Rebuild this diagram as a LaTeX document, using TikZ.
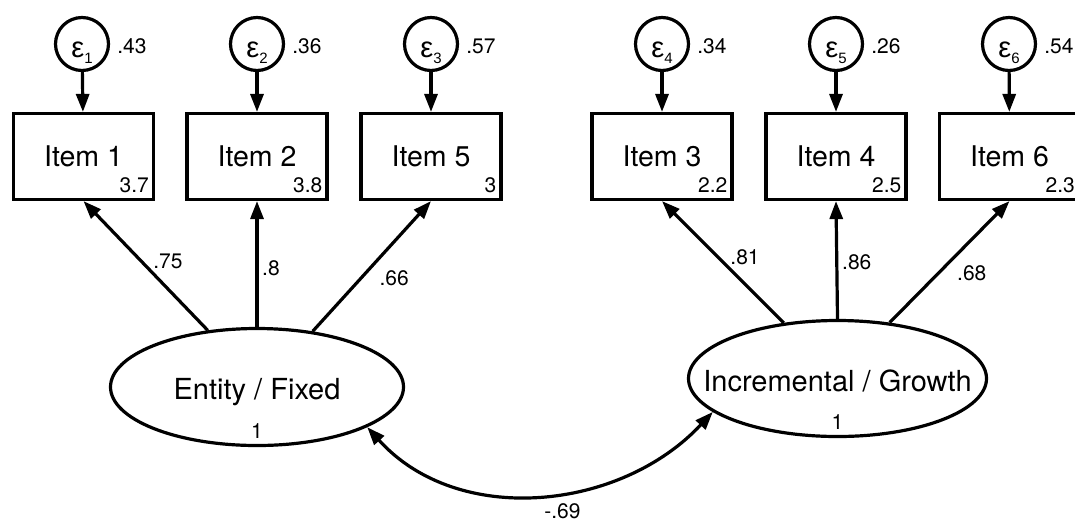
\documentclass[tikz,border=0pt]{standalone}
\usepackage{fontspec}
\setmainfont{TeX Gyre Heros}
\newfontfamily\grk{Liberation Sans}
\usetikzlibrary{arrows.meta,shapes.geometric}
\begin{document}
\begin{tikzpicture}[x=1pt,y=-1pt,
  every node/.style={inner sep=0pt},
  lw/.style={line width=3.2pt},
  arr/.style={lw, -{Triangle[length=18pt,width=13pt]}},
  dbl/.style={lw, {Triangle[length=18pt,width=13pt]}-{Triangle[length=18pt,width=13pt]}},
  errc/.style={circle, draw, lw, minimum size=53pt, text height=26pt, text depth=0pt},
  itembox/.style={rectangle, draw, lw, minimum width=140pt, minimum height=86pt, font=\fontsize{28.5}{30}\selectfont},
  latent/.style={ellipse, draw, lw},
  lattext/.style={font=\fontsize{29}{32}\selectfont},
  num/.style={font=\fontsize{21}{24}\selectfont},
]
\useasboundingbox (0,0) rectangle (1075,523);
\clip (0,0) rectangle (1075,523);

\newcommand{\eps}[1]{{\grk\fontsize{29}{30}\selectfont ε}\raisebox{-6pt}{\grk\fontsize{15}{16}\selectfont #1}}

% error terms
\node[errc] (e1) at (82,44) {\eps{1}};
\node[errc] (e2) at (257,44) {\eps{2}};
\node[errc] (e3) at (431,44) {\eps{3}};
\node[errc] (e4) at (662,44) {\eps{4}};
\node[errc] (e5) at (836,44) {\eps{5}};
\node[errc] (e6) at (1009,44) {\eps{6}};

\foreach \n/\v in {1/.43,2/.36,3/.57,4/.34,5/.26,6/.54}
  \node[num, anchor=west, xshift=7pt, yshift=-2.5pt] (v\n) at (e\n.east) {\v};

% items
\node[itembox] (i1) at (83.5,156.5) {Item 1};
\node[itembox] (i2) at (257,156.5) {Item 2};
\node[itembox] (i5) at (431,156.5) {Item 5};
\node[itembox] (i3) at (662,156.5) {Item 3};
\node[itembox] (i4) at (836,156.5) {Item 4};
\node[itembox] (i6) at (1009.5,156.5) {Item 6};

\foreach \n/\m in {1/3.7,2/3.8,5/3,3/2.2,4/2.5,6/2.3}
  \node[num, anchor=south east, xshift=-6pt, yshift=8pt] (m\n) at (i\n.south east) {\m};

\draw[arr] (e1) -- (i1);
\draw[arr] (e2) -- (i2);
\draw[arr] (e3) -- (i5);
\draw[arr] (e4) -- (i3);
\draw[arr] (e5) -- (i4);
\draw[arr] (e6) -- (i6);

% latent variables
\node[latent, minimum width=293pt, minimum height=117pt] (ent) at (257,387) {};
\node[latent, minimum width=298pt, minimum height=116pt] (inc) at (837.5,378.5) {};
\node[lattext, anchor=base] (entlab) at ([yshift=-12pt]ent.center) {Entity / Fixed};
\node[num, anchor=base] (entvar) at ([yshift=-51pt]ent.center) {1};
\node[lattext, anchor=base] (inclab) at ([yshift=-12.5pt]inc.center) {Incremental / Growth};
\node[num, anchor=base] (incvar) at ([yshift=-50.5pt]inc.center) {1};

% loadings
\draw[arr] (ent.131) -- (i1.south) node[num, pos=.53, xshift=26pt] {.75};
\draw[arr] (ent.90) -- (i2.south) node[num, pos=.47, xshift=14pt] {.8};
\draw[arr] (ent.45) -- (i5.south) node[num, pos=.41, xshift=33pt] {.66};
\draw[arr] (inc.134) -- (i3.south) node[num, pos=.54, xshift=27pt] {.81};
\draw[arr] (inc.90) -- (i4.south) node[num, pos=.48, xshift=20pt] {.86};
\draw[arr] (inc.47) -- (i6.south) node[num, pos=.41, xshift=33pt] {.68};

% covariance
\draw[dbl] (ent.-20) to[out=-48, in=-133] node[num, pos=.5, xshift=23pt, yshift=-17pt] {-.69} (inc.-165);
\end{tikzpicture}
\end{document}
